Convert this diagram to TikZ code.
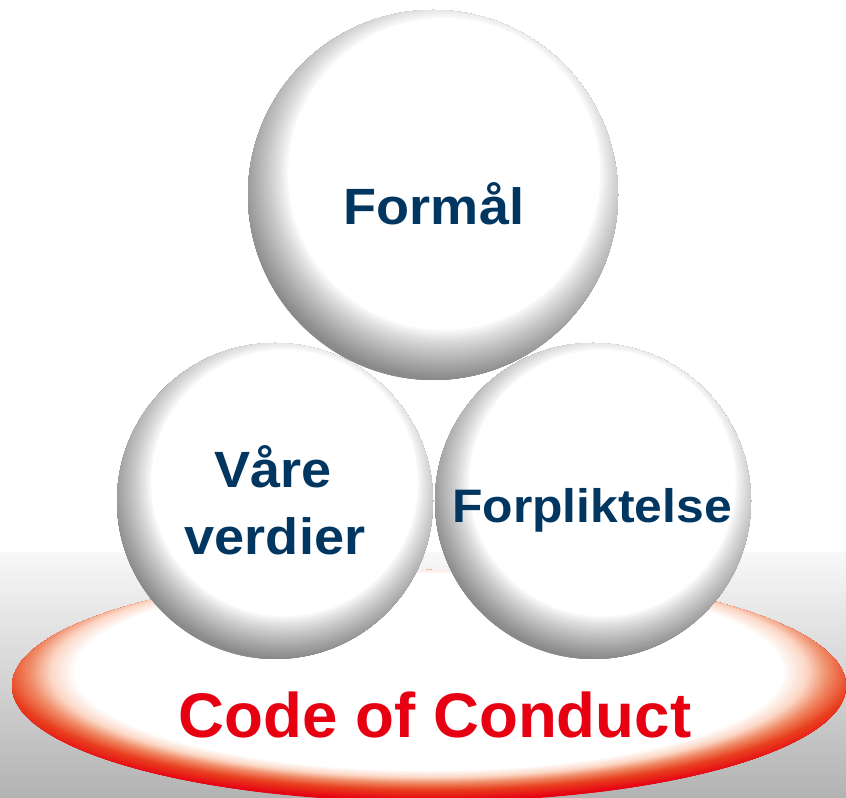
\documentclass[tikz,border=0pt]{standalone}
\usepackage{fontspec}
\newfontfamily\labfont[FakeStretch=1.06]{Liberation Sans}
\newfontfamily\cocfont[FakeStretch=1.01]{Liberation Sans}
\definecolor{navy}{HTML}{003660}
\definecolor{cocred}{HTML}{E60012}
\definecolor{discA}{HTML}{FBD6C4}
\definecolor{discB}{HTML}{F08A66}
\definecolor{discC}{HTML}{E8401F}
\tikzset{
  lab/.style={inner sep=0pt, anchor=base, text=navy},
  lab51/.style={lab, font=\labfont\bfseries\fontsize{51bp}{60bp}\selectfont},
  lab47/.style={lab, font=\labfont\bfseries\fontsize{47bp}{56bp}\selectfont},
  coc/.style={inner sep=0pt, anchor=base, text=cocred, font=\cocfont\bfseries\fontsize{63bp}{72bp}\selectfont}
}
% sphere: concentric rings around a highlight centre shifted up-right, clipped to the ball
\newcommand\drawsphere[3]{%
  \begin{scope}
    \clip (#1,#2) circle [radius=#3];
    \foreach \t in {1.135,1.130,...,0.846}{%
      \pgfmathsetmacro\p{min(46,46*(max(0.0001,(\t-0.843)/0.27))^0.85)}%
      \fill[black!\p] ({#1+0.06*#3},{#2+0.114*#3}) circle [radius={\t*#3}];
    }
    \fill[white] ({#1+0.06*#3},{#2+0.114*#3}) circle [radius={0.843*#3}];
  \end{scope}}
% disc ring: outer normalised radius, colour
\newcommand\discring[2]{%
  \fill[#2] (429,125.9) ellipse [x radius={#1*417}, y radius={#1*116}];}
\begin{document}
\begin{tikzpicture}[x=1bp,y=1bp]
\useasboundingbox (0,0) rectangle (846,798);
\fill[white] (0,0) rectangle (846,798);
% grey floor gradient
\shade[bottom color=black!30, top color=black!3] (0,0) rectangle (846,245);
% red disc
\begin{scope}
  \clip (429,112) ellipse [x radius=417, y radius=116];
  \discring{1.35}{cocred}
  \foreach \t in {1.110,1.105,...,1.021}{%
    \pgfmathsetmacro\w{max(0,min(100,(1.11-\t)/0.09*100))}%
    \discring{\t}{discC!\w!cocred}}
  \foreach \t in {1.020,1.015,...,0.961}{%
    \pgfmathsetmacro\w{max(0,min(100,(1.02-\t)/0.06*100))}%
    \discring{\t}{discB!\w!discC}}
  \foreach \t in {0.960,0.955,...,0.911}{%
    \pgfmathsetmacro\w{max(0,min(100,(0.96-\t)/0.05*100))}%
    \discring{\t}{discA!\w!discB}}
  \foreach \t in {0.910,0.905,...,0.851}{%
    \pgfmathsetmacro\w{max(0,min(100,(0.91-\t)/0.06*100))}%
    \discring{\t}{white!\w!discA}}
  \discring{0.850}{white}
\end{scope}
% lower spheres
\drawsphere{275}{297}{158}
\drawsphere{593}{297}{158}
% top sphere
\drawsphere{433}{603}{185}
% labels
\node[lab51] (formal) at (434,573) {Formål};
\node[lab51] (vare) at (273,310) {Våre};
\node[lab51] (verdier) at (275,243) {verdier};
\node[lab47] (forpl) at (592,275) {Forpliktelse};
\node[coc] (code) at (435,60) {Code of Conduct};
\end{tikzpicture}
\end{document}
